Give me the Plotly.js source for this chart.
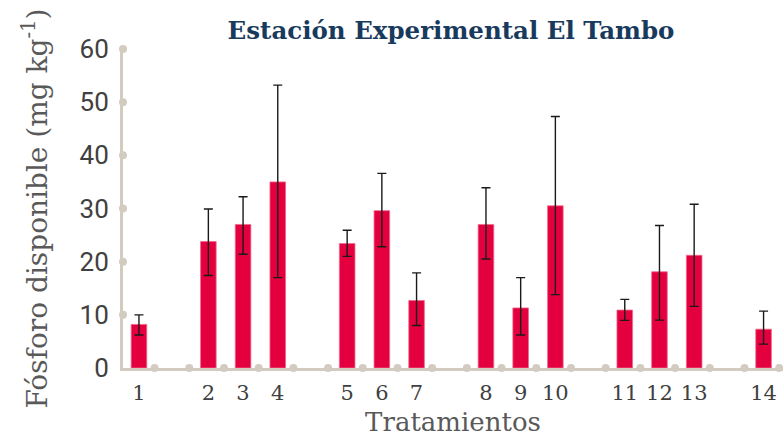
<!DOCTYPE html>
<html>
<head>
<meta charset="utf-8">
<script src="https://cdn.plot.ly/plotly-3.0.1.min.js"></script>
<style>html,body{margin:0;padding:0;background:#fff;}#chart{width:783px;height:437px;}</style>
</head>
<body>
<div id="chart"></div>
<script>
// Data
const treatments = ['1','2','3','4','5','6','7','8','9','10','11','12','13','14'];
const groups     = [1, 2, 2, 2, 3, 3, 3, 4, 4, 4, 5, 5, 5, 6];
const phosphorus = [8.2, 23.8, 27.0, 35.0, 23.4, 29.6, 12.7, 27.0, 11.3, 30.5, 10.9, 18.1, 21.2, 7.3];
const errPlus    = [1.8, 6.1, 5.2, 18.2, 2.5, 7.0, 5.2, 6.9, 5.7, 16.8, 2.0, 8.7, 9.6, 3.4];
const errMinus   = [2.0, 6.4, 5.6, 18.0, 2.4, 6.8, 4.7, 6.5, 5.1, 16.7, 1.95, 9.1, 9.6, 2.8];
const yTicks     = [0, 10, 20, 30, 40, 50, 60];

// slot positions: one empty slot between groups
const xPos = treatments.map((t, i) => i + (groups[i] - 1));
const nSlots = xPos[xPos.length - 1] + 1;
const boundaries = [];
for (let k = 0; k < nSlots; k++) boundaries.push(k + 0.45);

const axisCol = '#d3cbc0';
const xMin = -0.46, xMax = 18.56;

const bars = {
  type: 'bar', x: xPos, y: phosphorus, width: 0.45,
  marker: {color: '#e4003f', line: {color: '#f06a8c', width: 0.8}},
  error_y: {type: 'data', symmetric: false, array: errPlus, arrayminus: errMinus,
            color: '#1a1a1a', thickness: 1.4, width: 4.5},
  hoverinfo: 'skip'
};
const xDots = {
  type: 'scatter', mode: 'markers', x: boundaries, y: boundaries.map(() => 0),
  marker: {color: axisCol, size: 8}, cliponaxis: false, hoverinfo: 'skip'
};
const yDots = {
  type: 'scatter', mode: 'markers', x: yTicks.slice(1).map(() => xMin), y: yTicks.slice(1),
  marker: {color: axisCol, size: 8}, cliponaxis: false, hoverinfo: 'skip'
};

const layout = {
  width: 783, height: 437,
  margin: {l: 123, r: 0, t: 49, b: 69},
  paper_bgcolor: '#ffffff', plot_bgcolor: '#ffffff',
  showlegend: false,
  bargap: 0,
  title: {text: '<b>Estación Experimental El Tambo</b>', x: 0.576, xanchor: 'center', y: 0.93, yanchor: 'middle',
          font: {family: 'DejaVu Serif', size: 24.5, color: '#183a5c'}},
  xaxis: {
    range: [xMin, xMax], tickmode: 'array', tickvals: xPos, ticktext: treatments,
    showgrid: false, zeroline: false, showline: true, linecolor: axisCol, linewidth: 3,
    ticks: 'outside', ticklen: 4, tickcolor: 'rgba(0,0,0,0)',
    tickfont: {family: 'DejaVu Serif', size: 21, color: '#404040'},
    title: {text: 'Tratamientos', font: {family: 'DejaVu Serif', size: 26, color: '#595959'}, standoff: 10}
  },
  yaxis: {
    range: [0, 60], tickmode: 'array', tickvals: yTicks,
    showgrid: false, zeroline: false, showline: true, linecolor: axisCol, linewidth: 3,
    ticks: 'outside', ticklen: 6, tickcolor: 'rgba(0,0,0,0)',
    tickfont: {family: 'Roboto', size: 26, color: '#404040'},
    title: {text: 'Fósforo disponible (mg kg<sup>-1</sup>)', font: {family: 'DejaVu Serif', size: 28, color: '#595959'}, standoff: 24}
  }
};

Plotly.newPlot('chart', [bars, xDots, yDots], layout, {displayModeBar: false, staticPlot: true});
</script>
</body>
</html>
